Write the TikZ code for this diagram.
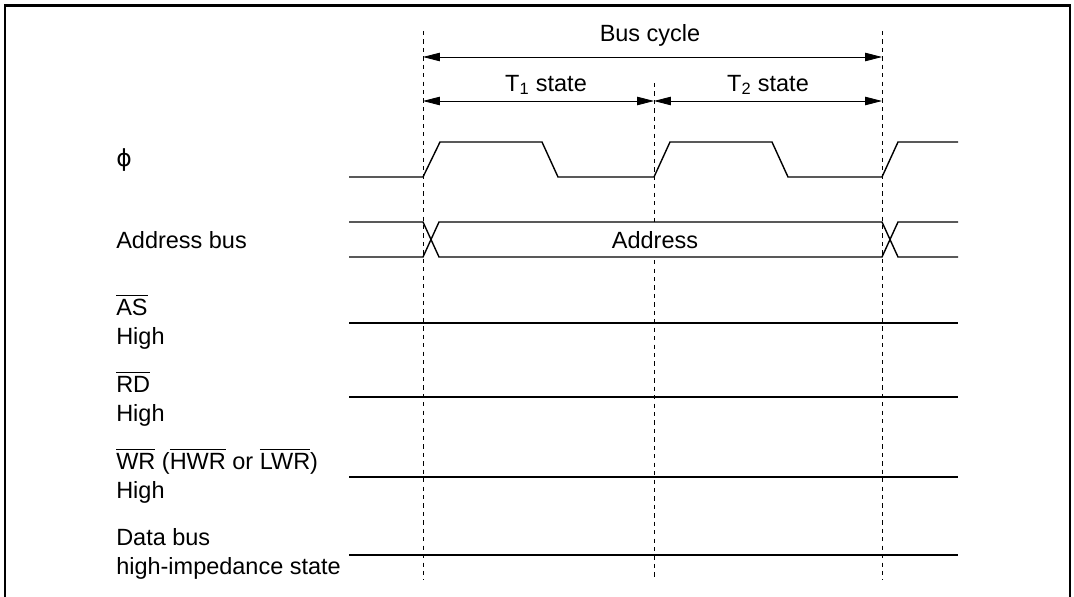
\documentclass[tikz,border=0pt]{standalone}
\usepackage{fontspec}
\setmainfont{Liberation Sans}
\newfontfamily\phifont{DejaVu Sans}
\usetikzlibrary{arrows.meta}
\newcommand{\ovl}[1]{\vbox{\hrule height 0.7pt\kern 2pt\hbox{#1}}}

\begin{document}
\begin{tikzpicture}[x=0.025cm, y=-0.025cm,
        lbl/.style={inner sep=0pt, align=left, anchor=west, font=\fontsize{16.7}{20.6}\selectfont},
        txt/.style={inner sep=0pt, font=\fontsize{16.7}{20.6}\selectfont},
        sig/.style={line width=1pt, line join=miter},
        guide/.style={line width=0.5pt, dash pattern=on 3pt off 3pt},
        dim/.style={arrows={Triangle[length=12pt, width=6pt]-Triangle[length=12pt, width=6pt]}, line width=0.6pt}
    ]
        \useasboundingbox (0,0) rectangle (1074,597);
        \draw[line width=1.5pt] (5,597) -- (5,5.5) -- (1070,5.5) -- (1070,597);

        % timing marks
        \foreach \n/\x/\t in {a/423/31, b/654/83, c/882/31} {
            \coordinate (\n top) at (\x,\t);
            \coordinate (\n bot) at (\x,580);
            \draw[guide] (\n top) -- (\n bot);
        }
        \coordinate (a) at (423,101);
        \coordinate (b) at (654,101);
        \coordinate (c) at (882,101);
        \coordinate (a0) at (423,57);
        \coordinate (c0) at (882,57);

        \draw[dim] (a0) -- (c0);
        \draw[dim] (a) -- (b);
        \draw[dim] (b) -- (c);
        \node[txt] (cycle) at (650,35) {Bus cycle};
        \node[txt] (t1) at (546,85) {T\textsubscript{1} state};
        \node[txt] (t2) at (768,85) {T\textsubscript{2} state};

        % signal names
        \node[lbl] (philbl) at (116,160) {\phifont ϕ};
        \node[lbl] (addrlbl) at (116,240) {Address bus};
        \node[lbl] (aslbl) at (116,322) {\ovl{AS}\\High};
        \node[lbl] (rdlbl) at (116,399) {\ovl{RD}\\High};
        \node[lbl] (wrlbl) at (116,476) {\ovl{WR} (\ovl{HWR} or \ovl{LWR})\\High};
        \node[lbl] (datalbl) at (116,554) {Data bus\\high-impedance state};

        % waveforms
        \node[txt, fill=white, minimum height=0.84cm, inner xsep=4pt] (addr) at (655,240) {Address};
        \draw[sig] (349,177) -- (423,177) -- (440,142) -- (542,142) -- (558,177) -- (654,177)
            -- (670,142) -- (772,142) -- (788,177) -- (882,177) -- (898,142) -- (958,142);
        \draw[sig] (349,222) -- (423,222) -- (439,257) -- (882,257) -- (898,222) -- (958,222);
        \draw[sig] (349,257) -- (423,257) -- (439,222) -- (882,222) -- (898,257) -- (958,257);
        \foreach \y in {323, 397, 477, 555} {
            \draw[sig] (349,\y) -- (958,\y);
        }
    \end{tikzpicture}
\end{document}
